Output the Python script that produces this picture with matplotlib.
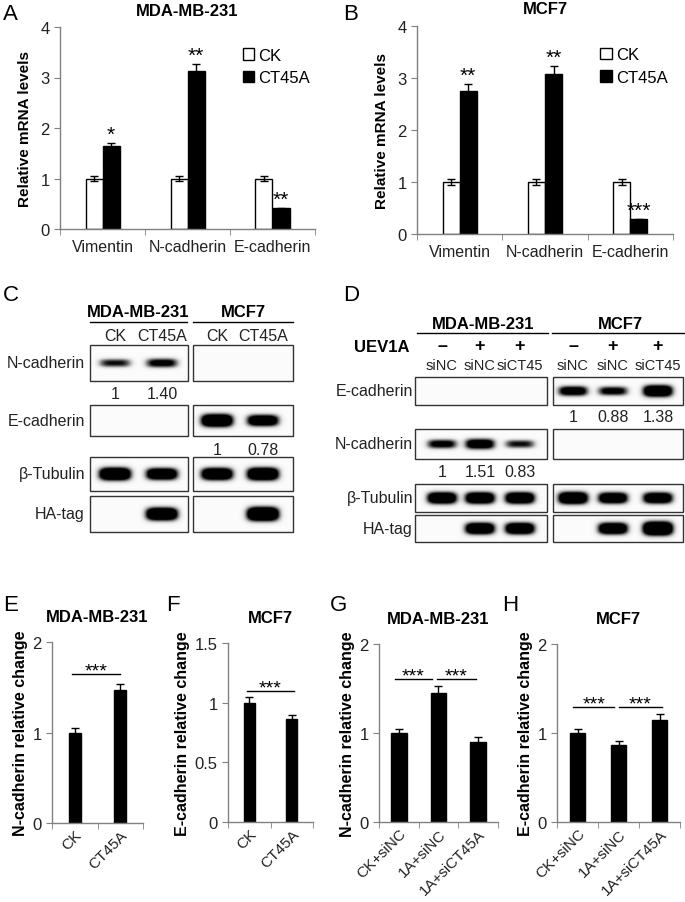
import numpy as np
import matplotlib
matplotlib.use("Agg")
import matplotlib.pyplot as plt
from matplotlib.patches import Rectangle

plt.rcParams['font.family'] = ['Liberation Sans', 'DejaVu Sans']

# -----------------------
# DATA
# -----------------------
genes = ["Vimentin", "N-cadherin", "E-cadherin"]

a_ck = [1.0, 1.0, 1.0]
a_ck_err = [0.04, 0.04, 0.04]
a_ct = [1.64, 3.12, 0.41]
a_ct_err = [0.07, 0.15, 0.01]
a_stars = ["*", "**", "**"]

b_ck = [1.0, 1.0, 1.0]
b_ck_err = [0.05, 0.05, 0.05]
b_ct = [2.75, 3.08, 0.28]
b_ct_err = [0.13, 0.15, 0.01]
b_stars = ["**", "**", "***"]

e_labels = ["CK", "CT45A"]
e_vals = [1.0, 1.47]
e_err = [0.05, 0.07]

f_labels = ["CK", "CT45A"]
f_vals = [1.0, 0.86]
f_err = [0.05, 0.04]

g_labels = ["CK+siNC", "1A+siNC", "1A+siCT45A"]
g_vals = [1.0, 1.45, 0.90]
g_err = [0.05, 0.08, 0.05]

h_labels = ["CK+siNC", "1A+siNC", "1A+siCT45A"]
h_vals = [1.0, 0.87, 1.15]
h_err = [0.05, 0.04, 0.06]

# band intensities per lane (0 = no band)
blot_rows_c = ["N-cadherin", "E-cadherin", "β-Tubulin", "HA-tag"]
c_mda = [[0.5, 0.6], [0, 0], [1.0, 0.9], [0, 1.0]]
c_mcf = [[0, 0], [1.0, 0.85], [0.95, 1.0], [0, 1.1]]
c_quant_n = ["1", "1.40"]
c_quant_e = ["1", "0.78"]

blot_rows_d = ["E-cadherin", "N-cadherin", "β-Tubulin", "HA-tag"]
d_mda = [[0, 0, 0], [0.6, 0.75, 0.5], [0.9, 0.9, 0.9], [0, 0.9, 0.9]]
d_mcf = [[0.7, 0.6, 0.9], [0, 0, 0], [0.95, 0.85, 0.85], [0, 0.9, 1.1]]
d_quant_e = ["1", "0.88", "1.38"]
d_quant_n = ["1", "1.51", "0.83"]
d_uev = ["–", "+", "+"]
d_si = ["siNC", "siNC", "siCT45"]

# -----------------------
# FIGURE
# -----------------------
W, H = 685, 903
fig = plt.figure(figsize=(W / 100, H / 100), dpi=100)

ov = fig.add_axes([0, 0, 1, 1])
ov.set_xlim(0, W)
ov.set_ylim(H, 0)
ov.axis("off")


def add_ax(l, t, r, b):
    return fig.add_axes([l / W, 1 - b / H, (r - l) / W, (b - t) / H])


SPINE = "#808080"
FS = 11.5     # tick labels
FS_T = 12     # bold titles
FS_Y = 11     # bold y labels


def style_axes(ax, n, ymax, yticks):
    ax.set_xlim(-0.5, n - 0.5)
    ax.set_ylim(0, ymax)
    ax.set_yticks(yticks)
    ax.set_yticklabels([f"{t:g}" for t in yticks])
    for s in ["top", "right"]:
        ax.spines[s].set_visible(False)
    for s in ["left", "bottom"]:
        ax.spines[s].set_color(SPINE)
        ax.spines[s].set_linewidth(1)
    ax.set_xticks(np.arange(n))
    ax.set_xticks(np.arange(n + 1) - 0.5, minor=True)
    ax.tick_params(axis="x", which="major", length=0, pad=7, labelsize=FS, colors="#222222")
    ax.tick_params(axis="x", which="minor", length=4, color=SPINE, direction="out")
    ax.tick_params(axis="y", length=4, color=SPINE, labelsize=12, labelcolor="#222222")
    ax.set_facecolor("none")


def mrna_panel(ax, ck, ck_err, ct, ct_err, stars, title):
    x = np.arange(len(genes))
    w = 0.2
    ekw = dict(elinewidth=1, capthick=1, ecolor="black")
    ax.bar(x - w / 2, ck, w, yerr=ck_err, color="white", edgecolor="black",
           linewidth=1, capsize=3, error_kw=ekw, label="CK")
    ax.bar(x + w / 2, ct, w, yerr=ct_err, color="black", edgecolor="black",
           linewidth=1, capsize=3, error_kw=ekw, label="CT45A")
    style_axes(ax, len(genes), 4, [0, 1, 2, 3, 4])
    ax.set_xticklabels(genes)
    for xi, v, e, s in zip(x, ct, ct_err, stars):
        ax.text(xi + w / 2, v + e - 0.02, s, ha="center", va="bottom", fontsize=15)
    ax.set_ylabel("Relative mRNA levels", fontsize=FS_Y, fontweight="bold", labelpad=6)
    ax.set_title(title, fontsize=FS_T, fontweight="bold", pad=9)
    ax.legend(loc="upper left", bbox_to_anchor=(0.69, 0.93), frameon=False,
              fontsize=12, handlelength=0.7, handleheight=0.7, handletextpad=0.25,
              labelspacing=0.45, borderaxespad=0)


def wb_quant_panel(ax, labels, vals, err, ymax, yticks, ylabel, title, sig, w):
    x = np.arange(len(labels))
    ax.bar(x, vals, w, yerr=err, color="black", edgecolor="black", capsize=3,
           error_kw=dict(elinewidth=1, capthick=1, ecolor="black"))
    style_axes(ax, len(labels), ymax, yticks)
    ax.tick_params(axis="x", which="major", pad=3, labelsize=11)
    ax.set_xticklabels(labels, rotation=45, ha="right", rotation_mode="anchor")
    ax.set_ylabel(ylabel, fontsize=FS_Y + 0.5, fontweight="bold", labelpad=3)
    ax.set_title(title, fontsize=FS_T, fontweight="bold", pad=15)
    for (i, j, y, x0, x1) in sig:
        ax.plot([i + x0, j + x1], [y, y], color="black", lw=1, clip_on=False)
        ax.text((i + x0 + j + x1) / 2, y - 0.03 * ymax, "***", ha="center", va="bottom",
                fontsize=14)


# -----------------------
# A / B  mRNA
# -----------------------
ax_a = add_ax(60, 28, 315, 230)
mrna_panel(ax_a, a_ck, a_ck_err, a_ct, a_ct_err, a_stars, "MDA-MB-231")
ax_b = add_ax(417, 27, 673, 235)
mrna_panel(ax_b, b_ck, b_ck_err, b_ct, b_ct_err, b_stars, "MCF7")

# -----------------------
# E-H  western quantification
# -----------------------
ax_e = add_ax(52, 643, 143, 824)
wb_quant_panel(ax_e, e_labels, e_vals, e_err, 2, [0, 1, 2],
               "N-cadherin relative change", "MDA-MB-231", [(0, 1, 1.65, -0.05, 0.0)], 0.27)
ax_f = add_ax(228, 644, 313, 823)
wb_quant_panel(ax_f, f_labels, f_vals, f_err, 1.5, [0, 0.5, 1, 1.5],
               "E-cadherin relative change", "MCF7", [(0, 1, 1.1, -0.05, 0.05)], 0.27)
ax_g = add_ax(379, 645, 498, 823)
wb_quant_panel(ax_g, g_labels, g_vals, g_err, 2, [0, 1, 2],
               "N-cadherin relative change", "MDA-MB-231",
               [(0, 1, 1.61, -0.1, -0.17), (1, 2, 1.61, -0.05, -0.05)], 0.4)
ax_h = add_ax(557, 645, 680, 823)
wb_quant_panel(ax_h, h_labels, h_vals, h_err, 2, [0, 1, 2],
               "E-cadherin relative change", "MCF7",
               [(0, 1, 1.29, -0.1, -0.1), (1, 2, 1.29, 0.02, 0.05)], 0.38)

# -----------------------
# BLOTS (overlay, pixel coords)
# -----------------------
def blot(x0, x1, y0, y1, lanes, intens, hw):
    nx, ny = int((x1 - x0) * 3), int((y1 - y0) * 3)
    xs = np.linspace(x0, x1, nx)
    ys = np.linspace(y0, y1, ny)
    yc = (y0 + y1) / 2
    img = np.full((ny, nx), 0.03)
    for lx, inten in zip(lanes, intens):
        if inten <= 0:
            continue
        hh = 2.0 + 4.5 * inten
        px = np.exp(-np.abs((xs - lx) / hw) ** 4)
        py = np.exp(-np.abs((ys - yc) / hh) ** 2.5)
        img += 1.9 * inten * np.outer(py, px)
    img = np.clip(img, 0, 1)
    ov.imshow(img, extent=(x0, x1, y1, y0), origin="upper", cmap="Greys",
              vmin=0, vmax=1, aspect="auto", interpolation="bilinear")
    ov.add_patch(Rectangle((x0, y0), x1 - x0, y1 - y0, fill=False,
                           ec="#333333", lw=1))


TXT = dict(fontsize=11.5, color="#222222")

# panel C
c_lanes_l = [115, 162]
c_lanes_r = [217, 263]
c_box_y = [(346, 382), (406, 437), (458, 492), (497, 533)]
ov.text(138, 313, "MDA-MB-231", ha="center", va="center", fontsize=FS_T, fontweight="bold")
ov.text(243, 313, "MCF7", ha="center", va="center", fontsize=FS_T, fontweight="bold")
ov.plot([90, 187], [323, 323], color="black", lw=1)
ov.plot([193, 293], [323, 323], color="black", lw=1)
for lx, lab in zip(c_lanes_l + c_lanes_r, e_labels + e_labels):
    ov.text(lx, 337, lab, ha="center", va="center", **TXT)
for (y0, y1), name, il, ir in zip(c_box_y, blot_rows_c, c_mda, c_mcf):
    ov.text(85, (y0 + y1) / 2, name, ha="right", va="center", **TXT)
    blot(90, 188, y0, y1, c_lanes_l, il, 16)
    blot(193, 293, y0, y1, c_lanes_r, ir, 16)
for lx, q in zip(c_lanes_l, c_quant_n):
    ov.text(lx, 395, q, ha="center", va="center", **TXT)
for lx, q in zip(c_lanes_r, c_quant_e):
    ov.text(lx, 451, q, ha="center", va="center", **TXT)

# panel D
d_lanes_l = [442, 480, 520]
d_lanes_r = [573, 613, 658]
d_box_y = [(378, 406), (430, 460), (485, 513), (516, 543)]
ov.text(483, 325, "MDA-MB-231", ha="center", va="center", fontsize=FS_T, fontweight="bold")
ov.text(620, 325, "MCF7", ha="center", va="center", fontsize=FS_T, fontweight="bold")
ov.plot([417, 548], [334, 334], color="black", lw=1)
ov.plot([552, 684], [334, 334], color="black", lw=1)
ov.text(382, 348, "UEV1A", ha="center", va="center", fontsize=FS_T, fontweight="bold")
for lx, s, si in zip(d_lanes_l + d_lanes_r, d_uev + d_uev, d_si + d_si):
    ov.text(lx, 347, s, ha="center", va="center", fontsize=13, fontweight="bold")
    ov.text(lx, 366, si, ha="center", va="center", fontsize=10.5, color="#222222")
for (y0, y1), name, il, ir in zip(d_box_y, blot_rows_d, d_mda, d_mcf):
    ov.text(413, (y0 + y1) / 2, name, ha="right", va="center", **TXT)
    blot(415, 547, y0, y1, d_lanes_l, il, 15)
    blot(553, 683, y0, y1, d_lanes_r, ir, 15)
for lx, q in zip(d_lanes_r, d_quant_e):
    ov.text(lx, 418, q, ha="center", va="center", **TXT)
for lx, q in zip(d_lanes_l, d_quant_n):
    ov.text(lx, 473, q, ha="center", va="center", **TXT)

ov.set_xlim(0, W)
ov.set_ylim(H, 0)

# panel letters
for lab, x, y in [("A", 3, 14), ("B", 343, 14), ("C", 3, 296), ("D", 343, 296),
                  ("E", 3, 606), ("F", 166, 606), ("G", 330, 606), ("H", 502, 606)]:
    ov.text(x, y, lab, ha="left", va="center", fontsize=16)

fig.savefig("out.png", dpi=100)
